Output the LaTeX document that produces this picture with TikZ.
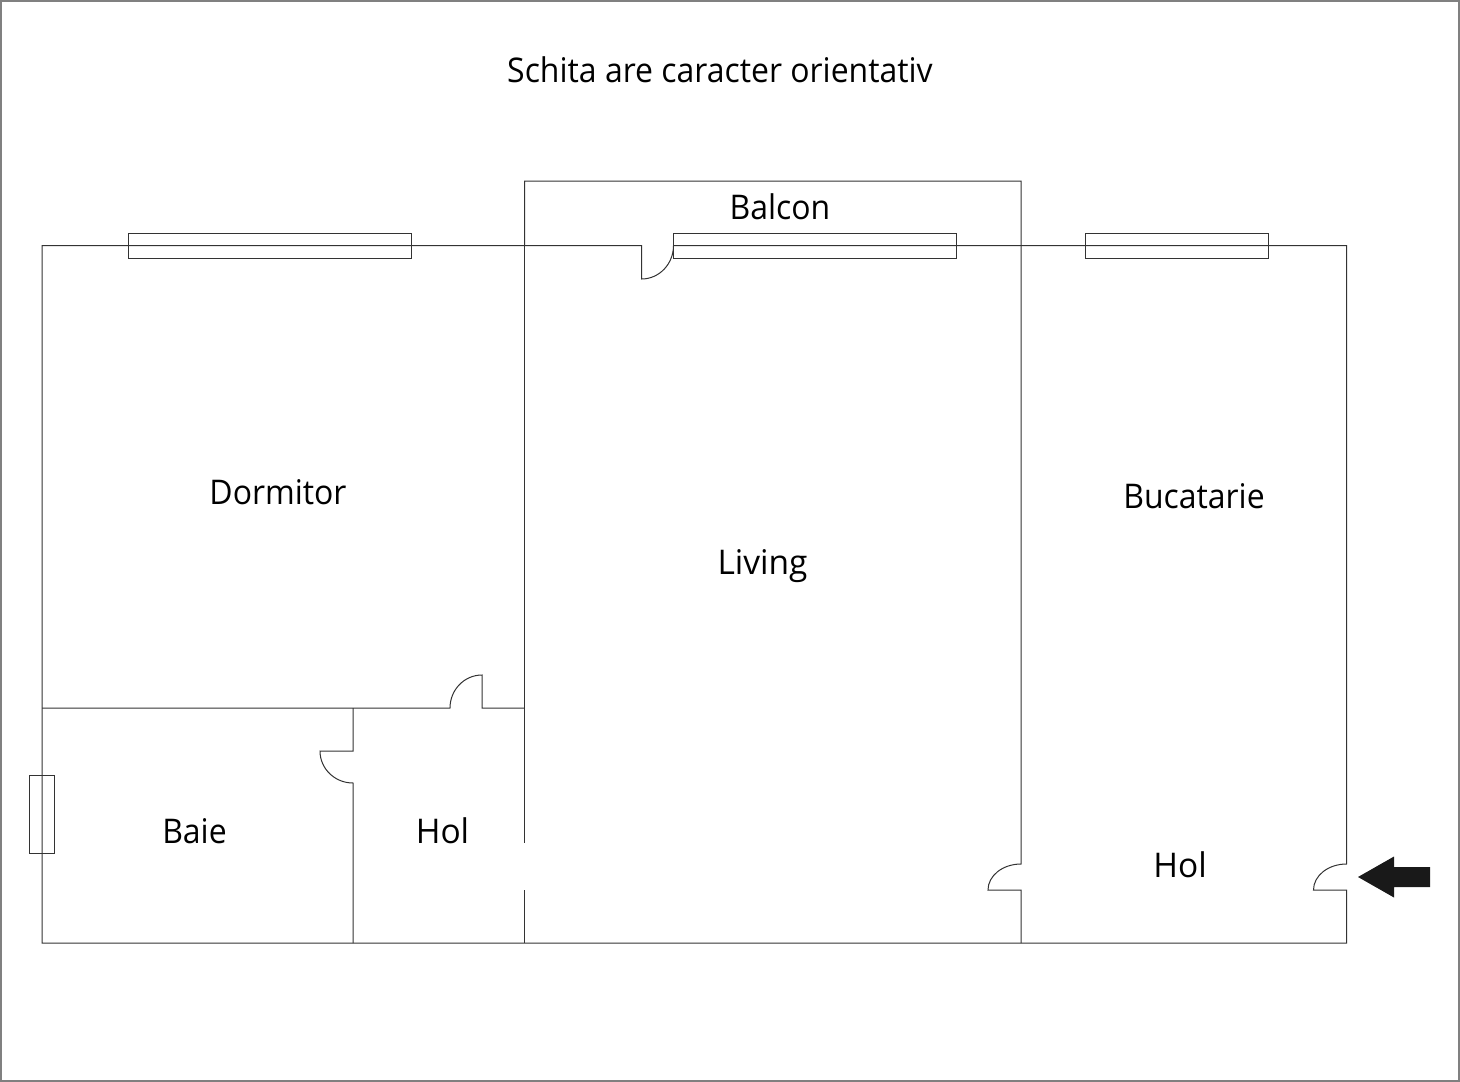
\documentclass[tikz,border=0pt]{standalone}
\usepackage{fontspec}
\setmainfont[FakeStretch=0.94]{Open Sans}
\newfontfamily\widerfont[FakeStretch=0.985]{Open Sans}
\tikzset{
  wall/.style={draw=black!80,line width=1pt,line join=miter},
  frame/.style={draw=black!50,line width=2pt},
  label/.style={inner sep=0pt,font=\fontsize{34}{40}\selectfont,text=black},
  widerlabel/.style={label,font=\fontsize{34}{40}\selectfont\widerfont},
  arrowmark/.style={fill=black!90,draw=none}
}
\begin{document}
\begin{tikzpicture}[x=1pt,y=-1pt]
\useasboundingbox (0,0) rectangle (1460,1082);
\path[fill=white] (0,0) rectangle (1460,1082);
\draw[frame] (0.5,0.5) rectangle (1459,1081);
% outer walls
\draw[wall] (42,245.5) -- (641.5,245.5) -- (641.5,279) .. controls (659.2,279) and (673.5,264) .. (673.5,245.5) -- (1346.5,245.5) -- (1346.5,864) .. controls (1328.3,864) and (1313.5,875.6) .. (1313.5,890) -- (1346.5,890) -- (1346.5,943) -- (42,943) -- cycle;
% balcony
\draw[wall] (524.7,245.5) -- (524.7,181) -- (1021,181) -- (1021,864) .. controls (1002.8,864) and (988,875.6) .. (988,890) -- (1021,890) -- (1021,943);
% inner wall with gap
\draw[wall] (524.7,245.5) -- (524.7,843);
\draw[wall] (524.7,890) -- (524.7,943);
% horizontal dormitor wall
\draw[wall] (42,708) -- (450,708) .. controls (450,689.8) and (464.3,675) .. (482,675) -- (482,708) -- (524.7,708);
% Baie wall
\draw[wall] (353,708) -- (353,751) -- (320,751) .. controls (320,768.7) and (334.8,783) .. (353,783) -- (353,943);
% windows
\draw[wall] (128.5,233) rectangle (411,258.5);
\draw[wall] (673.5,233) rectangle (956,258.5);
\draw[wall] (1085,233) rectangle (1268.5,258.5);
\draw[wall] (29,775) rectangle (54.5,853);
% arrow
\fill[arrowmark] (1358,877) -- (1394,856.5) -- (1394,867) -- (1430,867) -- (1430,887) -- (1394,887) -- (1394,897.5) -- cycle;
% labels
\node[label] (title) at (720,70) {Schita are caracter orientativ};
\node[label] (balcon) at (780,207) {Balcon};
\node[label] (dormitor) at (278,492) {Dormitor};
\node[widerlabel] (living) at (762.5,566) {Living};
\node[label] (bucatarie) at (1194,496) {Bucatarie};
\node[label] (baie) at (194.5,831) {Baie};
\node[widerlabel] (hol1) at (442.5,831) {Hol};
\node[widerlabel] (hol2) at (1180,865) {Hol};
\end{tikzpicture}
\end{document}
